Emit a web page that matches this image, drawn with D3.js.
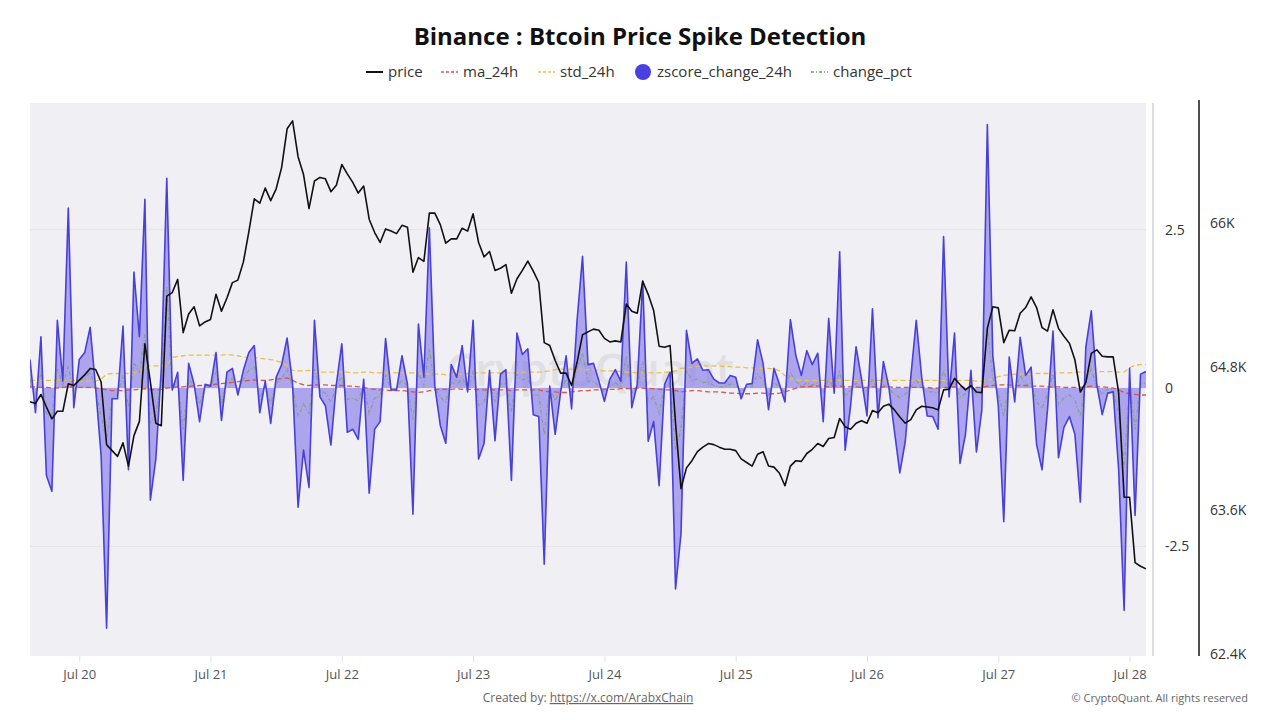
<!DOCTYPE html>
<html><head><meta charset="utf-8">
<script src="https://cdn.jsdelivr.net/npm/d3@7"></script>
<style>
html,body{margin:0;padding:0;background:#fff;}
svg{display:block;font-family:"Open Sans","Noto Sans",sans-serif;}
</style></head>
<body>
<svg id="chart" width="1280" height="720"></svg>
<script>
// ---- DATA (hourly, starting Jul 19 15:00 UTC) ----
const startTime = "2024-07-19T15:00:00Z";
const zscore = [
 0.45,-0.39,0.81,-1.38,-1.63,1.07,0.11,2.84,-0.31,0.45,
 0.56,0.96,0.00,-1.07,-3.79,-0.17,-0.17,0.98,-1.29,1.83,
 0.81,2.98,-1.77,-1.12,0.30,3.31,-0.03,0.25,-1.46,0.39,
 0.06,-0.53,0.06,0.03,0.56,-0.51,0.25,0.31,-0.11,0.28,
 0.56,0.67,-0.39,0.11,-0.56,0.17,0.37,0.79,0.06,-1.88,
 -0.98,-1.57,1.07,-0.14,-0.28,-0.90,0.06,0.70,-0.70,-0.65,
 -0.81,0.14,-1.66,-0.65,-0.53,0.78,-0.03,-0.03,0.51,0.06,
 -1.99,1.01,0.17,2.53,0.03,-0.59,-0.87,0.37,0.17,0.67,
 -0.06,1.07,-1.12,-0.87,0.28,-0.83,0.22,0.29,-1.46,0.87,
 0.53,0.62,-0.42,-0.45,-2.78,0.03,-0.73,-0.06,0.51,-0.33,
 1.07,2.08,0.37,0.39,0.11,-0.21,0.14,0.29,0.11,1.99,
 -0.31,0.06,1.69,-0.84,-0.53,-1.54,0.06,0.25,-3.17,-2.30,
 0.91,0.39,0.46,0.28,0.29,0.14,0.08,0.08,0.20,0.17,
 -0.17,0.06,0.07,0.76,0.39,-0.34,0.31,0.06,-0.22,1.08,
 0.51,0.20,0.59,0.37,0.55,-0.53,1.10,-0.08,2.15,-0.98,
 -0.28,0.65,0.14,-0.44,1.25,-0.47,0.42,0.01,-0.67,-1.34,
 -0.84,0.17,1.07,0.17,-0.44,-0.45,-0.65,2.39,-0.14,0.87,
 -1.19,-0.73,0.28,-1.01,-0.34,4.16,0.51,-0.28,-2.11,0.49,
 -0.22,0.80,0.20,0.33,-0.89,-1.29,-0.34,0.90,-1.10,-0.62,
 -0.45,-0.73,-1.80,0.65,1.22,0.06,-0.42,-0.08,-0.06,-1.29,
 -3.51,0.31,-2.01,0.22,0.26
];
const price = [
 64507,64493,64567,64463,64364,64427,64427,64657,64642,64687,
 64731,64785,64776,64672,64149,64099,64051,64164,63970,64224,
 64343,64990,64672,64328,64307,65388,65418,65528,65084,65239,
 65299,65140,65173,65194,65403,65263,65373,65501,65522,65672,
 65925,66200,66164,66290,66185,66284,66463,66785,66851,66552,
 66403,66119,66349,66379,66367,66260,66313,66487,66409,66337,
 66248,66307,66030,65919,65836,65949,65931,65910,65979,65964,
 65588,65710,65678,66081,66081,65985,65830,65866,65866,65955,
 65931,66075,65836,65716,65761,65603,65621,65651,65412,65531,
 65603,65681,65597,65502,65000,64976,64851,64746,64746,64642,
 64836,65066,65090,65113,65104,65036,65006,65015,65006,65322,
 65263,65245,65513,65403,65269,64970,64961,64976,64328,63782,
 63955,64015,64090,64128,64158,64149,64128,64110,64110,64099,
 64030,64000,63970,64069,64090,63970,63961,63910,63806,63970,
 64015,64009,64075,64110,64158,64134,64200,64209,64367,64299,
 64278,64328,64349,64328,64433,64415,64469,64487,64439,64379,
 64328,64358,64439,64469,64463,64457,64439,64606,64612,64702,
 64651,64606,64642,64588,64582,65119,65299,65290,65000,65104,
 65099,65245,65293,65382,65293,65125,65096,65275,65119,65054,
 64994,64857,64588,64666,64910,64940,64887,64881,64881,64582,
 63710,63710,63164,63134,63113
];
const ma24h = [
 0.02,0.02,0.01,0.01,0.00,0.00,0.01,0.02,0.02,0.01,
 0.01,0.01,0.00,-0.01,-0.03,-0.04,-0.04,-0.04,-0.03,-0.03,
 -0.02,-0.01,-0.02,-0.03,-0.02,0.00,0.01,0.02,0.02,0.03,
 0.03,0.04,0.04,0.05,0.06,0.07,0.08,0.09,0.10,0.11,
 0.12,0.13,0.12,0.12,0.13,0.14,0.15,0.16,0.12,0.08,
 0.05,0.04,0.05,0.05,0.05,0.04,0.04,0.04,0.03,0.03,
 0.02,0.01,-0.01,-0.02,-0.03,-0.03,-0.04,-0.04,-0.04,-0.05,
 -0.06,-0.07,-0.06,-0.04,-0.03,-0.02,-0.02,-0.02,-0.01,-0.02,
 -0.02,-0.02,-0.03,-0.03,-0.03,-0.03,-0.03,-0.03,-0.04,-0.03,
 -0.03,-0.03,-0.03,-0.03,-0.05,-0.06,-0.06,-0.07,-0.07,-0.06,
 -0.05,-0.04,-0.04,-0.03,-0.03,-0.02,-0.02,-0.02,-0.01,-0.01,
 -0.01,0.00,0.00,-0.01,-0.01,-0.02,-0.03,-0.03,-0.04,-0.06,
 -0.05,-0.04,-0.04,-0.05,-0.06,-0.06,-0.06,-0.07,-0.08,-0.08,
 -0.09,-0.09,-0.09,-0.08,-0.08,-0.09,-0.09,-0.08,-0.06,-0.03,
 0.00,0.02,0.02,0.03,0.03,0.03,0.02,0.03,0.03,0.02,
 0.02,0.02,0.01,0.01,0.02,0.02,0.02,0.02,0.01,0.01,
 0.01,0.01,0.01,0.01,0.01,0.00,0.00,0.01,0.01,0.02,
 0.02,0.01,0.01,0.01,0.01,0.03,0.04,0.05,0.05,0.05,
 0.04,0.04,0.04,0.03,0.03,0.03,0.02,0.02,0.02,0.01,
 0.01,0.01,0.01,0.02,0.03,0.02,0.02,0.01,0.00,-0.03,
 -0.07,-0.09,-0.10,-0.11,-0.11
];
const std24h = [
 0.12,0.12,0.12,0.12,0.12,0.12,0.12,0.12,0.12,0.12,
 0.11,0.11,0.11,0.14,0.22,0.23,0.23,0.23,0.23,0.24,
 0.26,0.34,0.35,0.35,0.35,0.35,0.48,0.50,0.51,0.52,
 0.52,0.52,0.52,0.52,0.52,0.52,0.53,0.52,0.51,0.49,
 0.48,0.48,0.47,0.46,0.45,0.43,0.40,0.35,0.28,0.27,
 0.27,0.28,0.26,0.25,0.25,0.25,0.25,0.25,0.25,0.24,
 0.24,0.25,0.25,0.24,0.24,0.24,0.24,0.24,0.24,0.24,
 0.24,0.23,0.23,0.22,0.22,0.22,0.21,0.21,0.22,0.22,
 0.23,0.24,0.24,0.24,0.24,0.24,0.24,0.24,0.24,0.24,
 0.25,0.25,0.25,0.25,0.26,0.27,0.29,0.30,0.30,0.30,
 0.30,0.30,0.29,0.29,0.28,0.27,0.27,0.27,0.26,0.25,
 0.25,0.24,0.24,0.24,0.24,0.24,0.25,0.25,0.27,0.31,
 0.32,0.33,0.34,0.35,0.35,0.35,0.35,0.34,0.34,0.33,
 0.33,0.32,0.32,0.31,0.31,0.31,0.30,0.27,0.20,0.15,
 0.13,0.12,0.12,0.12,0.12,0.12,0.12,0.12,0.12,0.12,
 0.12,0.12,0.12,0.12,0.12,0.12,0.12,0.12,0.12,0.12,
 0.12,0.12,0.12,0.12,0.12,0.12,0.12,0.12,0.12,0.12,
 0.12,0.12,0.12,0.11,0.11,0.12,0.15,0.18,0.20,0.21,
 0.22,0.22,0.22,0.22,0.23,0.23,0.23,0.24,0.24,0.24,
 0.24,0.25,0.25,0.25,0.26,0.26,0.26,0.26,0.26,0.25,
 0.25,0.32,0.36,0.37,0.37
];
const changePct = [
 0.15,-0.12,0.25,-0.40,-0.45,0.30,0.05,0.35,-0.08,0.12,
 0.15,0.25,0.00,-0.45,-0.85,-0.15,-0.10,0.20,-0.30,0.40,
 0.25,0.85,-0.55,-0.40,0.10,1.60,0.00,0.10,-0.65,0.15,
 0.02,-0.25,0.02,0.01,0.25,-0.25,0.12,0.15,-0.05,0.14,
 0.28,0.33,-0.18,0.05,-0.25,0.08,0.15,0.30,0.02,-0.45,
 -0.25,-0.40,0.30,-0.04,-0.08,-0.22,0.02,0.18,-0.18,-0.16,
 -0.20,0.04,-0.40,-0.16,-0.13,0.20,-0.01,-0.01,0.13,0.02,
 -0.50,0.25,0.04,0.62,0.01,-0.15,-0.22,0.09,0.04,0.17,
 -0.02,0.27,-0.28,-0.22,0.07,-0.21,0.06,0.07,-0.37,0.22,
 0.13,0.16,-0.11,-0.11,-0.75,0.01,-0.20,-0.02,0.14,-0.09,
 0.30,0.55,0.10,0.10,0.03,-0.06,0.04,0.08,0.03,0.50,
 -0.08,0.02,0.42,-0.22,-0.14,-0.40,0.02,0.07,-0.98,-0.65,
 0.28,0.12,0.14,0.09,0.09,0.04,0.02,0.02,0.06,0.05,
 -0.05,0.02,0.02,0.22,0.12,-0.10,0.09,0.02,-0.07,0.25,
 0.10,0.03,0.08,0.05,0.08,-0.07,0.14,-0.01,0.25,-0.12,
 -0.04,0.08,0.02,-0.06,0.15,-0.06,0.05,0.00,-0.10,-0.15,
 -0.10,0.02,0.12,0.02,-0.06,-0.06,-0.08,0.28,-0.02,0.10,
 -0.14,-0.09,0.03,-0.12,-0.04,0.95,0.15,-0.08,-0.45,0.12,
 -0.06,0.20,0.05,0.08,-0.22,-0.32,-0.09,0.22,-0.27,-0.15,
 -0.11,-0.18,-0.45,0.16,0.30,0.02,-0.10,-0.02,-0.02,-0.40,
 -1.25,0.08,-0.65,0.06,0.08
];
const zTicks = [-2.5, 0, 2.5];
const zTickLabels = ["-2.5", "0", "2.5"];
const priceTicks = [62400, 63600, 64800, 66000];
const priceTickLabels = ["62.4K", "63.6K", "64.8K", "66K"];
const legendItems = ["price","ma_24h","std_24h","zscore_change_24h","change_pct"];

// ---- LAYOUT ----
const svg = d3.select("#chart");
const plot = {left:30, right:1146, top:103, bottom:656};
const t0 = new Date(startTime);
const times = zscore.map((_, i) => d3.utcHour.offset(t0, i));

const x = d3.scaleUtc()
  .domain([t0, d3.utcHour.offset(t0, 204)])
  .range([plot.left, plot.right]);
const yZ = d3.scaleLinear().domain([-4.23, 4.5]).range([plot.bottom, plot.top]);
const yP = d3.scaleLinear().domain([62385, 67000]).range([plot.bottom, plot.top]);

// background
svg.append("rect").attr("x", plot.left).attr("y", plot.top)
  .attr("width", plot.right - plot.left).attr("height", plot.bottom - plot.top)
  .attr("fill", "#f0f0f4");

// horizontal grid
svg.append("g").selectAll("line").data(zTicks).join("line")
  .attr("x1", plot.left).attr("x2", plot.right)
  .attr("y1", d => yZ(d)).attr("y2", d => yZ(d))
  .attr("stroke", "#e3e3ea").attr("stroke-width", 1);

// watermark
svg.append("text").attr("x", 590).attr("y", 386)
  .attr("text-anchor", "middle").attr("font-size", 46).attr("font-weight", 600)
  .attr("fill", "#d2d2d8").attr("opacity", 0.55).text("CryptoQuant");

svg.append("clipPath").attr("id", "clip").append("rect")
  .attr("x", plot.left).attr("y", plot.top)
  .attr("width", plot.right - plot.left).attr("height", plot.bottom - plot.top);
const g = svg.append("g").attr("clip-path", "url(#clip)");

// zscore area
const area = d3.area().x((d, i) => x(times[i])).y0(yZ(0)).y1(d => yZ(d));
g.append("path").datum(zscore).attr("d", area)
  .attr("fill", "#8276e6").attr("fill-opacity", 0.62);

// dashed series
const lineZ = arr => d3.line().x((d, i) => x(times[i])).y(d => yZ(d))(arr);
g.append("path").attr("d", lineZ(std24h)).attr("fill", "none")
  .attr("stroke", "#e8c048").attr("stroke-width", 1.3).attr("stroke-dasharray", "5,3");
g.append("path").attr("d", lineZ(ma24h)).attr("fill", "none")
  .attr("stroke", "#d9534f").attr("stroke-width", 1.3).attr("stroke-dasharray", "5,3");
g.append("path").attr("d", lineZ(changePct)).attr("fill", "none")
  .attr("stroke", "#7fa07a").attr("stroke-width", 1.2).attr("stroke-dasharray", "4,2,1,2").attr("opacity", 0.85);

// zscore line
g.append("path").attr("d", lineZ(zscore)).attr("fill", "none")
  .attr("stroke", "#4a3fd8").attr("stroke-width", 1.6).attr("stroke-linejoin", "round");

// price line
const lineP = d3.line().x((d, i) => x(times[i])).y(d => yP(d));
g.append("path").datum(price).attr("d", lineP).attr("fill", "none")
  .attr("stroke", "#111").attr("stroke-width", 1.6).attr("stroke-linejoin", "round");

// x axis
const xAxis = d3.axisBottom(x).ticks(d3.utcDay.every(1))
  .tickFormat(d3.utcFormat("%b %-d")).tickSize(6).tickPadding(8);
const xg = svg.append("g").attr("transform", `translate(0,${plot.bottom})`).call(xAxis);
xg.select(".domain").remove();
xg.selectAll(".tick line").attr("stroke", "#e0e0e6");
xg.selectAll(".tick text").attr("fill", "#555").attr("font-size", 13)
  .attr("font-family", "'Open Sans','Noto Sans',sans-serif");

// z axis (right, first)
const zAxis = d3.axisRight(yZ).tickValues(zTicks)
  .tickFormat((d, i) => zTickLabels[i]).tickSize(0).tickPadding(12);
const zg = svg.append("g").attr("transform", "translate(1153,0)").call(zAxis);
zg.select(".domain").attr("stroke", "#cfcfe6").attr("stroke-width", 1.5)
  .attr("d", `M0,${plot.top}V${plot.bottom}`);
zg.selectAll(".tick text").attr("fill", "#333").attr("font-size", 14)
  .attr("font-family", "'Open Sans','Noto Sans',sans-serif");

// price axis (right, second)
const pAxis = d3.axisRight(yP).tickValues(priceTicks)
  .tickFormat((d, i) => priceTickLabels[i]).tickSize(0).tickPadding(11);
const pg = svg.append("g").attr("transform", "translate(1199,0)").call(pAxis);
pg.select(".domain").attr("stroke", "#222").attr("stroke-width", 1.6)
  .attr("d", `M0,${plot.top - 3}V${plot.bottom}`);
pg.selectAll(".tick text").attr("fill", "#333").attr("font-size", 14)
  .attr("font-family", "'Open Sans','Noto Sans',sans-serif");

// title
svg.append("text").attr("x", 640).attr("y", 45).attr("text-anchor", "middle")
  .attr("font-size", 24).attr("font-weight", 700).attr("fill", "#111")
  .text("Binance : Btcoin Price Spike Detection");

// legend
const lg = svg.append("g").attr("font-size", 15).attr("fill", "#333");
const legendX = [366, 441, 538, 643, 811];
legendItems.forEach((name, k) => {
  const lx = legendX[k], ly = 72;
  if (name === "zscore_change_24h") {
    lg.append("circle").attr("cx", lx).attr("cy", ly).attr("r", 8).attr("fill", "#4a3fe0");
    lg.append("text").attr("x", lx + 14).attr("y", ly + 5).text(name);
  } else {
    const styles = {
      price: {c:"#111", d:null, w:2},
      ma_24h: {c:"#d9534f", d:"3,2", w:1.3},
      std_24h: {c:"#e8c048", d:"3,2", w:1.3},
      change_pct: {c:"#6f9f6a", d:"3,2,1,2", w:1.3}
    }[name];
    lg.append("line").attr("x1", lx).attr("x2", lx + 17).attr("y1", ly).attr("y2", ly)
      .attr("stroke", styles.c).attr("stroke-width", styles.w)
      .attr("stroke-dasharray", styles.d);
    lg.append("text").attr("x", lx + 22).attr("y", ly + 5).text(name);
  }
});

// footer
const ft = svg.append("text").attr("x", 588).attr("y", 702).attr("text-anchor", "middle")
  .attr("font-size", 12).attr("fill", "#666");
ft.append("tspan").text("Created by: ");
ft.append("tspan").attr("text-decoration", "underline").text("https://x.com/ArabxChain");
svg.append("text").attr("x", 1248).attr("y", 702).attr("text-anchor", "end")
  .attr("font-size", 11).attr("fill", "#666").text("© CryptoQuant. All rights reserved");
</script>
</body></html>
